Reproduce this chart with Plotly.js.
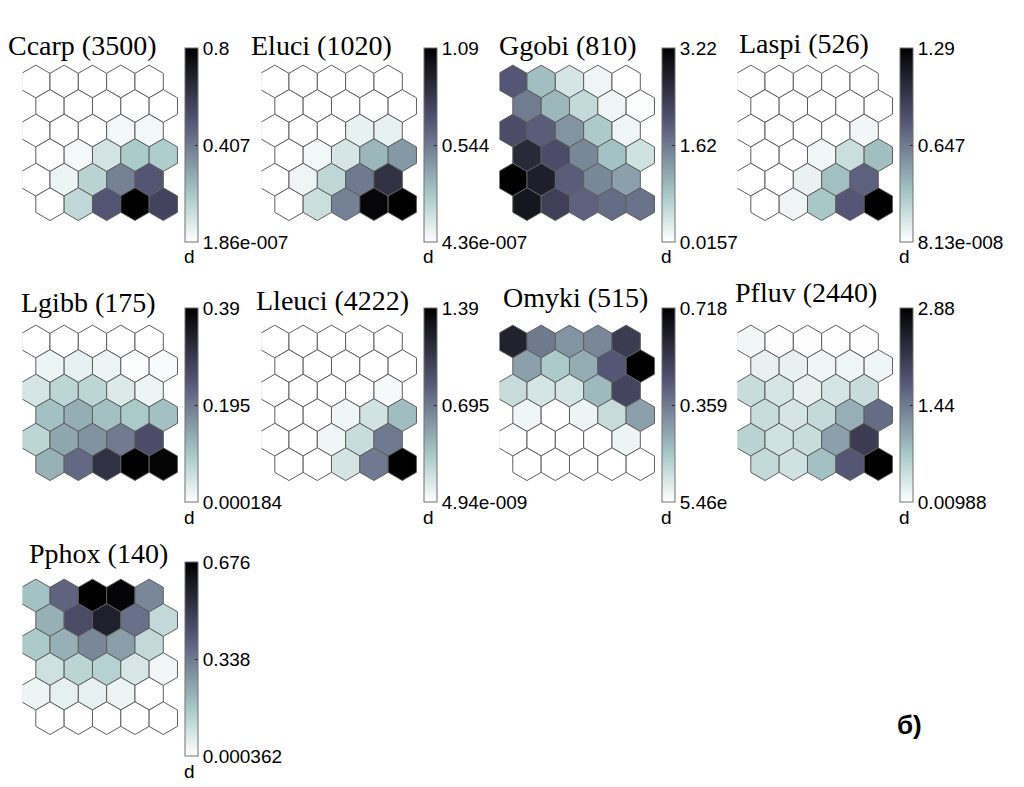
<!DOCTYPE html>
<html><head><meta charset="utf-8">
<script src="https://cdn.plot.ly/plotly-3.0.1.min.js"></script>
<style>html,body{margin:0;padding:0;background:#fff}#chart{width:1024px;height:787px}</style>
</head><body><div id="chart"></div>
<script>
// ---- DATA (rows top->bottom, 5 units per row; odd rows are shifted half a unit right) ----
const titles = ['Ccarp (3500)', 'Eluci (1020)', 'Ggobi (810)', 'Laspi (526)', 'Lgibb (175)', 'Lleuci (4222)', 'Omyki (515)', 'Pfluv (2440)', 'Pphox (140)'];
const minVals = [1.86e-7, 4.36e-7, 0.0157, 8.13e-8, 0.000184, 4.94e-9, 5.46e-9, 0.00988, 0.000362];
const maxVals = [0.8, 1.09, 3.22, 1.29, 0.39, 1.39, 0.718, 2.88, 0.676];
const minLabels = ['1.86e-007', '4.36e-007', '0.0157', '8.13e-008', '0.000184', '4.94e-009', '5.46e', '0.00988', '0.000362'];
const midLabels = ['0.407', '0.544', '1.62', '0.647', '0.195', '0.695', '0.359', '1.44', '0.338'];
const maxLabels = ['0.8', '1.09', '3.22', '1.29', '0.39', '1.39', '0.718', '2.88', '0.676'];
const barLabel = 'd';
const panelTag = 'б)';

const ccarp = [
  [0, 0, 0, 0, 0],
  [0, 0, 0, 0, 0],
  [0, 0, 0, 0.03, 0.03],
  [0, 0.02, 0.1, 0.19, 0.18],
  [0, 0.04, 0.16, 0.38, 0.5],
  [0, 0.14, 0.5, 0.8, 0.56]
];
const eluci = [
  [0, 0, 0, 0, 0],
  [0, 0, 0, 0, 0],
  [0, 0, 0, 0.07, 0.07],
  [0, 0.04, 0.13, 0.33, 0.44],
  [0, 0.05, 0.2, 0.55, 0.85],
  [0, 0.16, 0.52, 1.06, 1.09]
];
const ggobi = [
  [2.0, 0.9, 0.4, 0.16, 0.02],
  [1.6, 0.97, 0.55, 0.16, 0.05],
  [2.13, 1.93, 1.35, 0.77, 0.16],
  [2.64, 2.13, 1.48, 0.87, 0.45],
  [3.22, 2.77, 1.93, 1.48, 1.22],
  [2.9, 2.32, 1.87, 1.77, 1.7]
];
const laspi = [
  [0, 0, 0, 0, 0],
  [0, 0, 0, 0, 0],
  [0, 0, 0, 0, 0.05],
  [0, 0, 0.05, 0.19, 0.36],
  [0, 0, 0.08, 0.35, 0.75],
  [0, 0.06, 0.32, 0.8, 1.29]
];
const lgibb = [
  [0, 0, 0, 0, 0],
  [0.02, 0.027, 0.02, 0.004, 0.008],
  [0.047, 0.074, 0.074, 0.039, 0.02],
  [0.105, 0.129, 0.105, 0.094, 0.105],
  [0.074, 0.14, 0.164, 0.195, 0.257],
  [0.125, 0.218, 0.304, 0.39, 0.382]
];
const lleuci = [
  [0, 0, 0, 0, 0],
  [0, 0, 0, 0, 0],
  [0, 0, 0, 0, 0.04],
  [0, 0, 0.06, 0.18, 0.39],
  [0, 0, 0.06, 0.22, 0.7],
  [0, 0, 0.17, 0.7, 1.39]
];
const omyki = [
  [0.61, 0.36, 0.3, 0.33, 0.53],
  [0.27, 0.17, 0.24, 0.445, 0.718],
  [0.115, 0.086, 0.086, 0.21, 0.5],
  [0.03, 0, 0.036, 0.115, 0.27],
  [0, 0, 0, 0, 0.036],
  [0, 0, 0, 0, 0]
];
const pfluv = [
  [0.12, 0.03, 0.03, 0.02, 0.02],
  [0.2, 0.2, 0.14, 0.14, 0.14],
  [0.46, 0.35, 0.2, 0.35, 0.46],
  [0.46, 0.35, 0.49, 0.95, 1.58],
  [0.58, 0.4, 0.46, 1.09, 2.13],
  [0.49, 0.4, 0.78, 1.79, 2.88]
];
const pphox = [
  [0.18, 0.39, 0.676, 0.66, 0.31],
  [0.22, 0.45, 0.58, 0.36, 0.115],
  [0.16, 0.22, 0.31, 0.26, 0.115],
  [0.095, 0.13, 0.14, 0.08, 0.027],
  [0.034, 0.047, 0.047, 0.034, 0],
  [0, 0, 0, 0, 0]
];
const maps = [ccarp, eluci, ggobi, laspi, lgibb, lleuci, omyki, pfluv, pphox];

// ---- LAYOUT / STYLE ----
const W = 1024, H = 787;
const colOff = [0, 239, 477, 715];
const rowOff = [0, 260, 514];
const titleCx = [82, 321, 568, 804, 88, 332, 575, 806, 98];
const titleBase = [55, 55, 55, 53, 312, 310, 307, 302, 563];
const colSp = 28.33;                 // px per column unit (hex width)
const rowSp = colSp * Math.sqrt(3) / 2;  // px per row unit for a regular honeycomb
const startSize = 31.5;
// reversed MATLAB "bone"
const boneR = [[0, '#ffffff'], [0.25, 'rgb(167,199,199)'], [0.625, 'rgb(84,84,116)'], [1, '#000000']];
const tickFont = {family: 'Liberation Sans, Arial, sans-serif', size: 19, color: '#000'};

const px = v => v / W;
const py = v => 1 - v / H;

const data = [];
const layout = {
  width: W, height: H,
  margin: {l: 0, r: 0, t: 0, b: 0},
  paper_bgcolor: '#ffffff', plot_bgcolor: 'rgba(0,0,0,0)',
  showlegend: false,
  annotations: []
};

maps.forEach((m, p) => {
  const dx = colOff[p % 4], dy = rowOff[Math.floor(p / 4)];
  const n = p + 1;
  const xs = [], ys = [], cs = [];
  m.forEach((row, r) => row.forEach((v, j) => {
    xs.push(j + (r % 2 ? 0.5 : 0));
    ys.push(-r);
    cs.push(v);
  }));
  const mid = (minVals[p] + maxVals[p]) / 2;
  data.push({
    type: 'scatter', mode: 'markers',
    x: xs, y: ys,
    xaxis: 'x' + n, yaxis: 'y' + n,
    cliponaxis: true,
    hoverinfo: 'skip',
    marker: {
      symbol: 'hexagon', size: startSize,
      color: cs, colorscale: boneR, cmin: minVals[p], cmax: maxVals[p],
      line: {color: '#5e5e5e', width: 1},
      colorbar: {
        x: px(185 + dx), xanchor: 'left', xpad: 0,
        y: py(145 + dy), yanchor: 'middle', ypad: 0,
        len: 194, lenmode: 'pixels',
        thickness: 13, thicknessmode: 'pixels',
        outlinecolor: '#707070', outlinewidth: 1,
        tickvals: [minVals[p], mid, maxVals[p]],
        ticktext: [minLabels[p], midLabels[p], maxLabels[p]],
        ticks: 'inside', ticklen: 3, tickcolor: '#222', tickwidth: 1,
        tickfont: tickFont
      }
    }
  });
  const left = 22.5 + dx;
  const xr = [-0.47, 5.1];
  const yr = [-5.8, 0.8];
  const top = 81.5 + dy - 0.8 * rowSp;
  layout['xaxis' + n] = {
    domain: [px(left), px(left + (xr[1] - xr[0]) * colSp)],
    range: xr, visible: false, fixedrange: true, anchor: 'y' + n
  };
  layout['yaxis' + n] = {
    domain: [py(top + (yr[1] - yr[0]) * rowSp), py(top)],
    range: yr, visible: false, fixedrange: true, anchor: 'x' + n
  };
  layout.annotations.push({
    xref: 'paper', yref: 'paper', x: px(titleCx[p]), y: py(titleBase[p] - 9.5),
    xanchor: 'center', yanchor: 'middle', showarrow: false,
    text: titles[p],
    font: {family: 'Liberation Serif, Times New Roman, serif', size: 28, color: '#000'}
  });
  layout.annotations.push({
    xref: 'paper', yref: 'paper', x: px(182 + dx), y: py(145 + dy + 97 + 20 - 5),
    xanchor: 'left', yanchor: 'middle', showarrow: false,
    text: barLabel,
    font: tickFont
  });
});

layout.annotations.push({
  xref: 'paper', yref: 'paper', x: px(909), y: py(725),
  xanchor: 'center', yanchor: 'middle', showarrow: false,
  text: '<b>' + panelTag + '</b>',
  font: {family: 'Liberation Sans, Arial, sans-serif', size: 26, color: '#000'}
});

Plotly.newPlot('chart', data, layout, {staticPlot: true, displayModeBar: false}).then(gd => {
  // size the hexagon markers so neighbouring cells tile exactly
  const pt = gd.querySelector('.scatterlayer .point');
  if (pt) {
    const bb = pt.getBBox();
    if (bb.width > 0) {
      const size = startSize * colSp / bb.width;
      return Plotly.restyle(gd, {'marker.size': size});
    }
  }
});
</script>
</body></html>
